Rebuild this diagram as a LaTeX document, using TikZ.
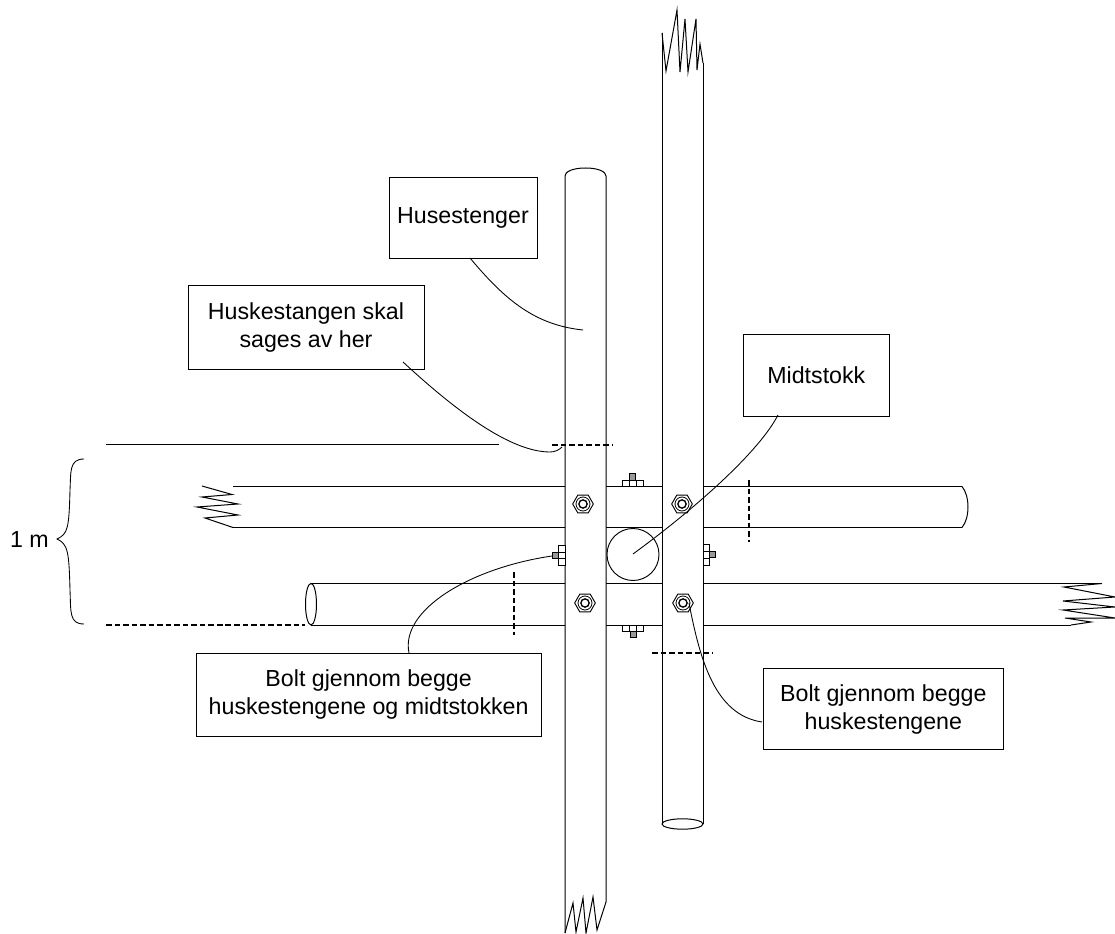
\documentclass[tikz,border=0pt]{standalone}
\usepackage{fontspec}
\setmainfont{Liberation Sans}
\usetikzlibrary{shapes.geometric,patterns}
\tikzset{
  rail/.style={line width=0.75pt,black},
  leader/.style={line width=0.65pt,black},
  cutline/.style={line width=1.05pt,dash pattern=on 4.2pt off 2.2pt,black},
  label/.style={draw,line width=0.75pt,fill=white,align=center,font=\fontsize{17.4}{21}\selectfont,inner sep=0pt,anchor=north west},
  nuthex/.style={regular polygon,regular polygon sides=6,shape border rotate=0,draw,line width=0.7pt,fill=white,minimum size=15.5pt,inner sep=0pt},
  nutring/.style={circle,draw,line width=0.6pt,minimum size=10.5pt,inner sep=0pt},
  nuthole/.style={circle,draw,line width=1pt,minimum size=6.2pt,inner sep=0pt},
  shank/.style={draw,line width=0.5pt,fill=black!40},
  flange/.style={draw,line width=0.5pt,fill=white}
}
\newcommand{\boltnut}[3]{%
  \node[nuthex] (#1) at (#2,#3) {};
  \node[nutring] at (#2,#3) {};
  \node[nuthole] at (#2,#3) {};
}
\begin{document}
\begin{tikzpicture}[x=0.75pt,y=-0.75pt]
\useasboundingbox (0,0) rectangle (1115,934);
% vertical pole A
\draw[rail] (565,933) -- (565,176) .. controls (565,172) and (572,168) .. (585.5,168) .. controls (599,168) and (606,172) .. (606,176) -- (606,902);
\draw[rail] (565,933) -- (573,903) -- (576,932) -- (583,898) -- (586,933) -- (593,897) -- (597,930) -- (606,902);
% vertical pole B
\draw[rail] (662,33) -- (662,824);
\draw[rail] (703,63) -- (703,824);
\draw[rail] (662,33) -- (666,71) -- (677,10) -- (680,72) -- (685,19) -- (688,72) -- (696,19) -- (697,70) -- (700,44) -- (703,63);
\draw[rail] (682.5,824) ellipse (20.5 and 5.2);
% upper horizontal pole
\draw[rail] (233,486.5) -- (565,486.5) (606,486.5) -- (662,486.5) (703,486.5) -- (962,486.5);
\draw[rail] (233,527.5) -- (565,527.5) (606,527.5) -- (662,527.5) (703,527.5) -- (962,527.5);
\draw[rail] (962,486.5) .. controls (970,496) and (970,518) .. (962,527.5);
\draw[rail] (202,486) -- (232,494.5) -- (202,497) -- (238,504) -- (197,507) -- (238,515) -- (205,518) -- (233,527.5);
% lower horizontal pole
\draw[rail] (311,583.5) -- (565,583.5) (606,583.5) -- (662,583.5) (703,583.5) -- (1102,583.5);
\draw[rail] (311,625) -- (565,625) (606,625) -- (662,625) (703,625) -- (1071,625);
\draw[rail] (311,604.2) ellipse (5.5 and 20.8);
\draw[rail] (1102,583.5) -- (1064,587) -- (1115,597) -- (1063,601) -- (1115,607) -- (1063,610) -- (1115,618) -- (1065,618) -- (1091,622) -- (1071,625);
% level lines
\draw[rail] (106,445) -- (499,445);
\draw[cutline] (106,625) -- (305,625);
\draw[cutline] (552,445) -- (612,445);
\draw[cutline] (749,480) -- (749,542);
\draw[cutline] (514,572) -- (514,635);
\draw[cutline] (652,653) -- (712,653);
% brace
\draw[leader] (84,459) .. controls (69,459) and (71,472) .. (70,490) .. controls (69,528) and (68,534) .. (57,539) .. controls (68,544) and (69,552) .. (70,590) .. controls (71,612) and (69,624) .. (84,624);
\node[font=\fontsize{17.4}{21}\selectfont,anchor=center] (onem) at (29.5,540) {1 m};
% middle post
\node[circle,draw,line width=0.7pt,fill=white,minimum size=39pt,inner sep=0pt] (post) at (633,554.5) {};
% bolts
\foreach \xa/\ya/\xb/\yb in {622/480/643/486.5,622/625/643/631,558.5/545/565/565.5,703/544.5/709/565}{\draw[flange] (\xa,\ya) rectangle (\xb,\yb);}
\draw[flange] (629,480) rectangle (636,486.5);
\draw[flange] (629,625) rectangle (636,631);
\draw[flange] (558.5,552) rectangle (565,558.5);
\draw[flange] (703,551) rectangle (709,558);
\draw[shank] (629.5,473.5) rectangle (635.5,480);
\draw[shank] (630,631) rectangle (636,637);
\draw[shank] (552,552) rectangle (558.5,558);
\draw[shank] (709,551.5) rectangle (715.5,557.5);
\boltnut{nutA}{583}{504}
\boltnut{nutB}{682}{504}
\boltnut{nutC}{585}{603}
\boltnut{nutD}{683}{603}
% labels
\node[label,minimum width=111pt,minimum height=60.5pt] (husestenger) at (388.5,177) {Husestenger};
\node[label,minimum width=177pt,minimum height=63pt] (saging) at (187.5,285.5) {Huskestangen skal\\sages av her};
\node[label,minimum width=110pt,minimum height=61pt] (midtstokk) at (742.5,334.5) {Midtstokk};
\node[label,minimum width=259pt,minimum height=62pt] (bolttre) at (195.5,653) {Bolt gjennom begge\\huskestengene og midtstokken};
\node[label,minimum width=180.5pt,minimum height=61pt] (bolttvo) at (762.5,668) {Bolt gjennom begge\\huskestengene};
% leaders
\coordinate (endA) at (583,330);
\coordinate (endB) at (550,452);
\coordinate (endB2) at (562,447);
\coordinate (endC) at (633,554);
\coordinate (endD) at (552,556);
\coordinate (endE) at (689,603);
\coordinate (sA) at (470,258);
\coordinate (sB) at (403,362);
\coordinate (sC) at (778,415);
\coordinate (sD) at (409,653);
\coordinate (sE) at (762,722);
\draw[leader] (sA) .. controls (505,300) and (535,325) .. (endA);
\draw[leader] (sB) .. controls (455,410) and (510,452) .. (endB) .. controls (555,452) and (559,450) .. (endB2);
\draw[leader] (sC) .. controls (760,450) and (700,505) .. (endC);
\draw[leader] (sD) .. controls (400,610) and (470,568) .. (endD);
\draw[leader] (sE) .. controls (715,715) and (700,660) .. (endE);
\end{tikzpicture}
\end{document}
